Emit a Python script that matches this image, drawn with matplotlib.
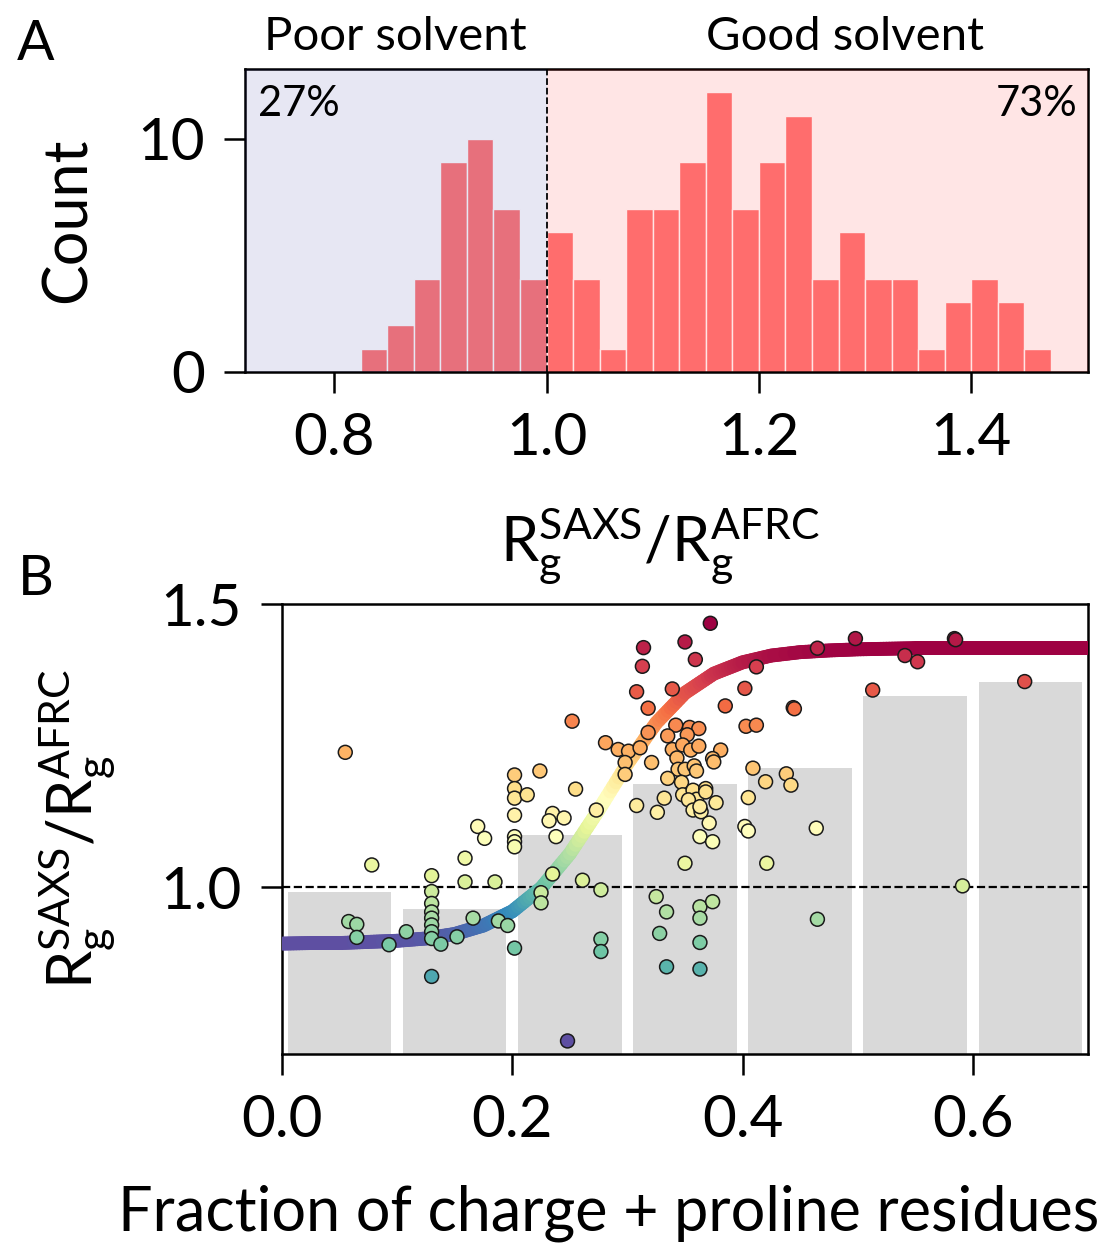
import numpy as np
import matplotlib
matplotlib.use('Agg')
import matplotlib.pyplot as plt
from matplotlib.collections import LineCollection

plt.rcParams['font.family'] = ['Lato', 'DejaVu Sans']
plt.rcParams['mathtext.fontset'] = 'custom'
plt.rcParams['mathtext.rm'] = 'Lato'
plt.rcParams['mathtext.it'] = 'Lato'

# panel A: histogram of Rg ratio (bins of 0.025)
bin_left = 0.825
bin_width = 0.025
counts = [1, 2, 4, 9, 10, 7, 4, 6, 4, 1, 7, 7, 9, 12, 7, 9, 11, 4, 6, 4, 4, 1, 3, 4, 3, 1]

# panel B: binned means
bin_centers = [0.05, 0.15, 0.25, 0.35, 0.45, 0.55, 0.65]
bin_means = [0.992, 0.962, 1.092, 1.182, 1.211, 1.338, 1.362]

# fitted sigmoid
curve_x = [0.0, 0.025, 0.05, 0.075, 0.1, 0.125, 0.15, 0.175, 0.2, 0.225, 0.25,
           0.275, 0.3, 0.325, 0.35, 0.375, 0.4, 0.425, 0.45, 0.475, 0.5, 0.525,
           0.55, 0.575, 0.6, 0.625, 0.65, 0.675, 0.7]
curve_y = [0.900, 0.901, 0.901, 0.903, 0.905, 0.909, 0.917, 0.932, 0.957, 0.998,
           1.059, 1.136, 1.218, 1.290, 1.343, 1.377, 1.397, 1.409, 1.415, 1.418,
           1.420, 1.421, 1.422, 1.422, 1.422, 1.422, 1.422, 1.422, 1.422]

# scatter: fraction of charge + proline vs Rg ratio
fcr = [0.055, 0.078, 0.058, 0.065, 0.065, 0.093, 0.108,
       0.130, 0.130, 0.130, 0.130, 0.130, 0.130, 0.130, 0.130, 0.130,
       0.138, 0.152, 0.166, 0.159, 0.159, 0.170, 0.176, 0.185, 0.188, 0.196, 0.202,
       0.202, 0.202, 0.202, 0.202, 0.202, 0.202, 0.202,
       0.213, 0.224, 0.235, 0.232, 0.245, 0.238, 0.255, 0.252, 0.273, 0.235, 0.261,
       0.225, 0.225, 0.277, 0.277, 0.277, 0.248,
       0.314, 0.313, 0.308, 0.318, 0.318, 0.281, 0.292, 0.301, 0.311, 0.298, 0.298,
       0.321, 0.308, 0.326,
       0.372, 0.350, 0.359, 0.412, 0.339, 0.402, 0.385, 0.342, 0.354, 0.362, 0.352,
       0.335, 0.403, 0.412, 0.339, 0.348, 0.355, 0.362, 0.343, 0.381, 0.374, 0.375,
       0.344, 0.350, 0.358, 0.360, 0.335, 0.347, 0.409, 0.420, 0.332,
       0.348, 0.357, 0.368, 0.360, 0.368, 0.353, 0.377, 0.405, 0.357, 0.364, 0.363,
       0.371, 0.363, 0.374, 0.402, 0.405, 0.350, 0.421,
       0.325, 0.334, 0.363, 0.374, 0.363, 0.328, 0.363, 0.334, 0.363,
       0.465, 0.498, 0.541, 0.552, 0.584, 0.585, 0.444, 0.445, 0.513, 0.645,
       0.438, 0.442, 0.464, 0.591, 0.465]
ratio = [1.238, 1.039, 0.939, 0.934, 0.911, 0.898, 0.921,
         1.020, 0.992, 0.971, 0.956, 0.945, 0.933, 0.921, 0.909, 0.842,
         0.899, 0.912, 0.945, 1.051, 1.009, 1.107, 1.086, 1.009, 0.940, 0.932, 0.892,
         1.198, 1.174, 1.157, 1.127, 1.089, 1.080, 1.071,
         1.163, 1.205, 1.130, 1.117, 1.122, 1.089, 1.173, 1.293, 1.136, 1.023, 1.012,
         0.990, 0.972, 0.995, 0.908, 0.886, 0.728,
         1.423, 1.390, 1.345, 1.316, 1.273, 1.255, 1.243, 1.240, 1.246, 1.220, 1.199,
         1.220, 1.144, 1.132,
         1.466, 1.433, 1.402, 1.389, 1.350, 1.351, 1.320, 1.286, 1.282, 1.280, 1.269,
         1.267, 1.284, 1.286, 1.243, 1.251, 1.242, 1.249, 1.228, 1.242, 1.227, 1.221,
         1.208, 1.208, 1.214, 1.205, 1.192, 1.185, 1.210, 1.186, 1.157,
         1.163, 1.171, 1.174, 1.155, 1.168, 1.154, 1.149, 1.158, 1.136, 1.133, 1.142,
         1.113, 1.089, 1.080, 1.107, 1.099, 1.042, 1.042,
         0.983, 0.956, 0.965, 0.974, 0.945, 0.918, 0.902, 0.859, 0.855,
         1.422, 1.439, 1.409, 1.398, 1.439, 1.437, 1.317, 1.315, 1.348, 1.363,
         1.200, 1.180, 1.104, 1.002, 0.943]

rg_label = r'$\mathregular{R_g^{SAXS}/R_g^{AFRC}}$'
fs_tick = 42
fs_lab = 44

fig = plt.figure(figsize=(11.1, 12.47), dpi=100)
axA = fig.add_axes([0.2207, 0.7017, 0.7595, 0.2430])
axB = fig.add_axes([0.2540, 0.1548, 0.7262, 0.3608])

# ---- panel A
edges = bin_left + bin_width * np.arange(len(counts) + 1)
axA.bar(edges[:-1], counts, width=bin_width, align='edge', color='#ff7a7a',
        edgecolor='white', linewidth=1, zorder=2)
axA.axvspan(0.7, 1.0, color='#191991', alpha=0.1, lw=0, zorder=3)
axA.axvspan(1.0, 1.6, color='red', alpha=0.1, lw=0, zorder=3)
axA.axvline(1.0, color='black', ls='--', lw=1.3, zorder=4)
axA.set_xlim(0.716, 1.51)
axA.set_ylim(0, 13)
axA.set_xticks([0.8, 1.0, 1.2, 1.4])
axA.set_yticks([0, 10])
axA.set_ylabel('Count', fontsize=fs_lab)
axA.yaxis.set_label_coords(-0.176, 0.5)
axA.set_xlabel(rg_label, fontsize=fs_lab)
axA.xaxis.set_label_coords(0.492, -0.44)
axA.text(0.015, 0.885, '27%', transform=axA.transAxes, fontsize=30, ha='left', va='center')
axA.text(0.988, 0.885, '73%', transform=axA.transAxes, fontsize=30, ha='right', va='center')
axA.text(0.858, 1.105, 'Poor solvent', transform=axA.get_xaxis_transform(),
         fontsize=34, ha='center', va='center')
axA.text(1.281, 1.105, 'Good solvent', transform=axA.get_xaxis_transform(),
         fontsize=34, ha='center', va='center')

# ---- panel B
axB.bar(bin_centers, bin_means, width=0.09, color='#d9d9d9', zorder=1)
axB.axhline(1.0, color='black', ls='--', lw=1.6, zorder=2)

# colour the fitted curve by its own value; each read segment split for a smooth gradient
cx = np.array(curve_x)
cy = np.array(curve_y)
t = np.linspace(0, 1, 11)
sx = np.concatenate([cx[i] + (cx[i + 1] - cx[i]) * t[:-1] for i in range(len(cx) - 1)] + [cx[-1:]])
sy = np.concatenate([cy[i] + (cy[i + 1] - cy[i]) * t[:-1] for i in range(len(cy) - 1)] + [cy[-1:]])
pts = np.column_stack([sx, sy]).reshape(-1, 1, 2)
segs = np.concatenate([pts[:-1], pts[1:]], axis=1)
lc = LineCollection(segs, cmap='Spectral_r', linewidth=10, capstyle='round', zorder=3)
lc.set_array(0.5 * (sy[:-1] + sy[1:]))
lc.set_clim(cy.min(), cy.max())
axB.add_collection(lc)

axB.scatter(fcr, ratio, c=ratio, cmap='Spectral_r', s=100, edgecolors='#1a1a1a',
            linewidths=1.1, zorder=4)
axB.set_xlim(0, 0.7)
axB.set_ylim(0.705, 1.5)
axB.set_xticks([0.0, 0.2, 0.4, 0.6])
axB.set_yticks([1.0, 1.5])
axB.set_xlabel('Fraction of charge + proline residues', fontsize=fs_lab)
axB.xaxis.set_label_coords(0.405, -0.29)
axB.set_ylabel(rg_label, fontsize=fs_lab)
axB.yaxis.set_label_coords(-0.205, 0.5)

for ax in (axA, axB):
    for sp in ax.spines.values():
        sp.set_linewidth(1.8)
    ax.tick_params(labelsize=fs_tick, width=1.8, length=15, pad=14)

fig.text(0.032, 0.964, 'A', fontsize=40, ha='center', va='center')
fig.text(0.032, 0.535, 'B', fontsize=40, ha='center', va='center')

fig.savefig('out.png', dpi=100)
